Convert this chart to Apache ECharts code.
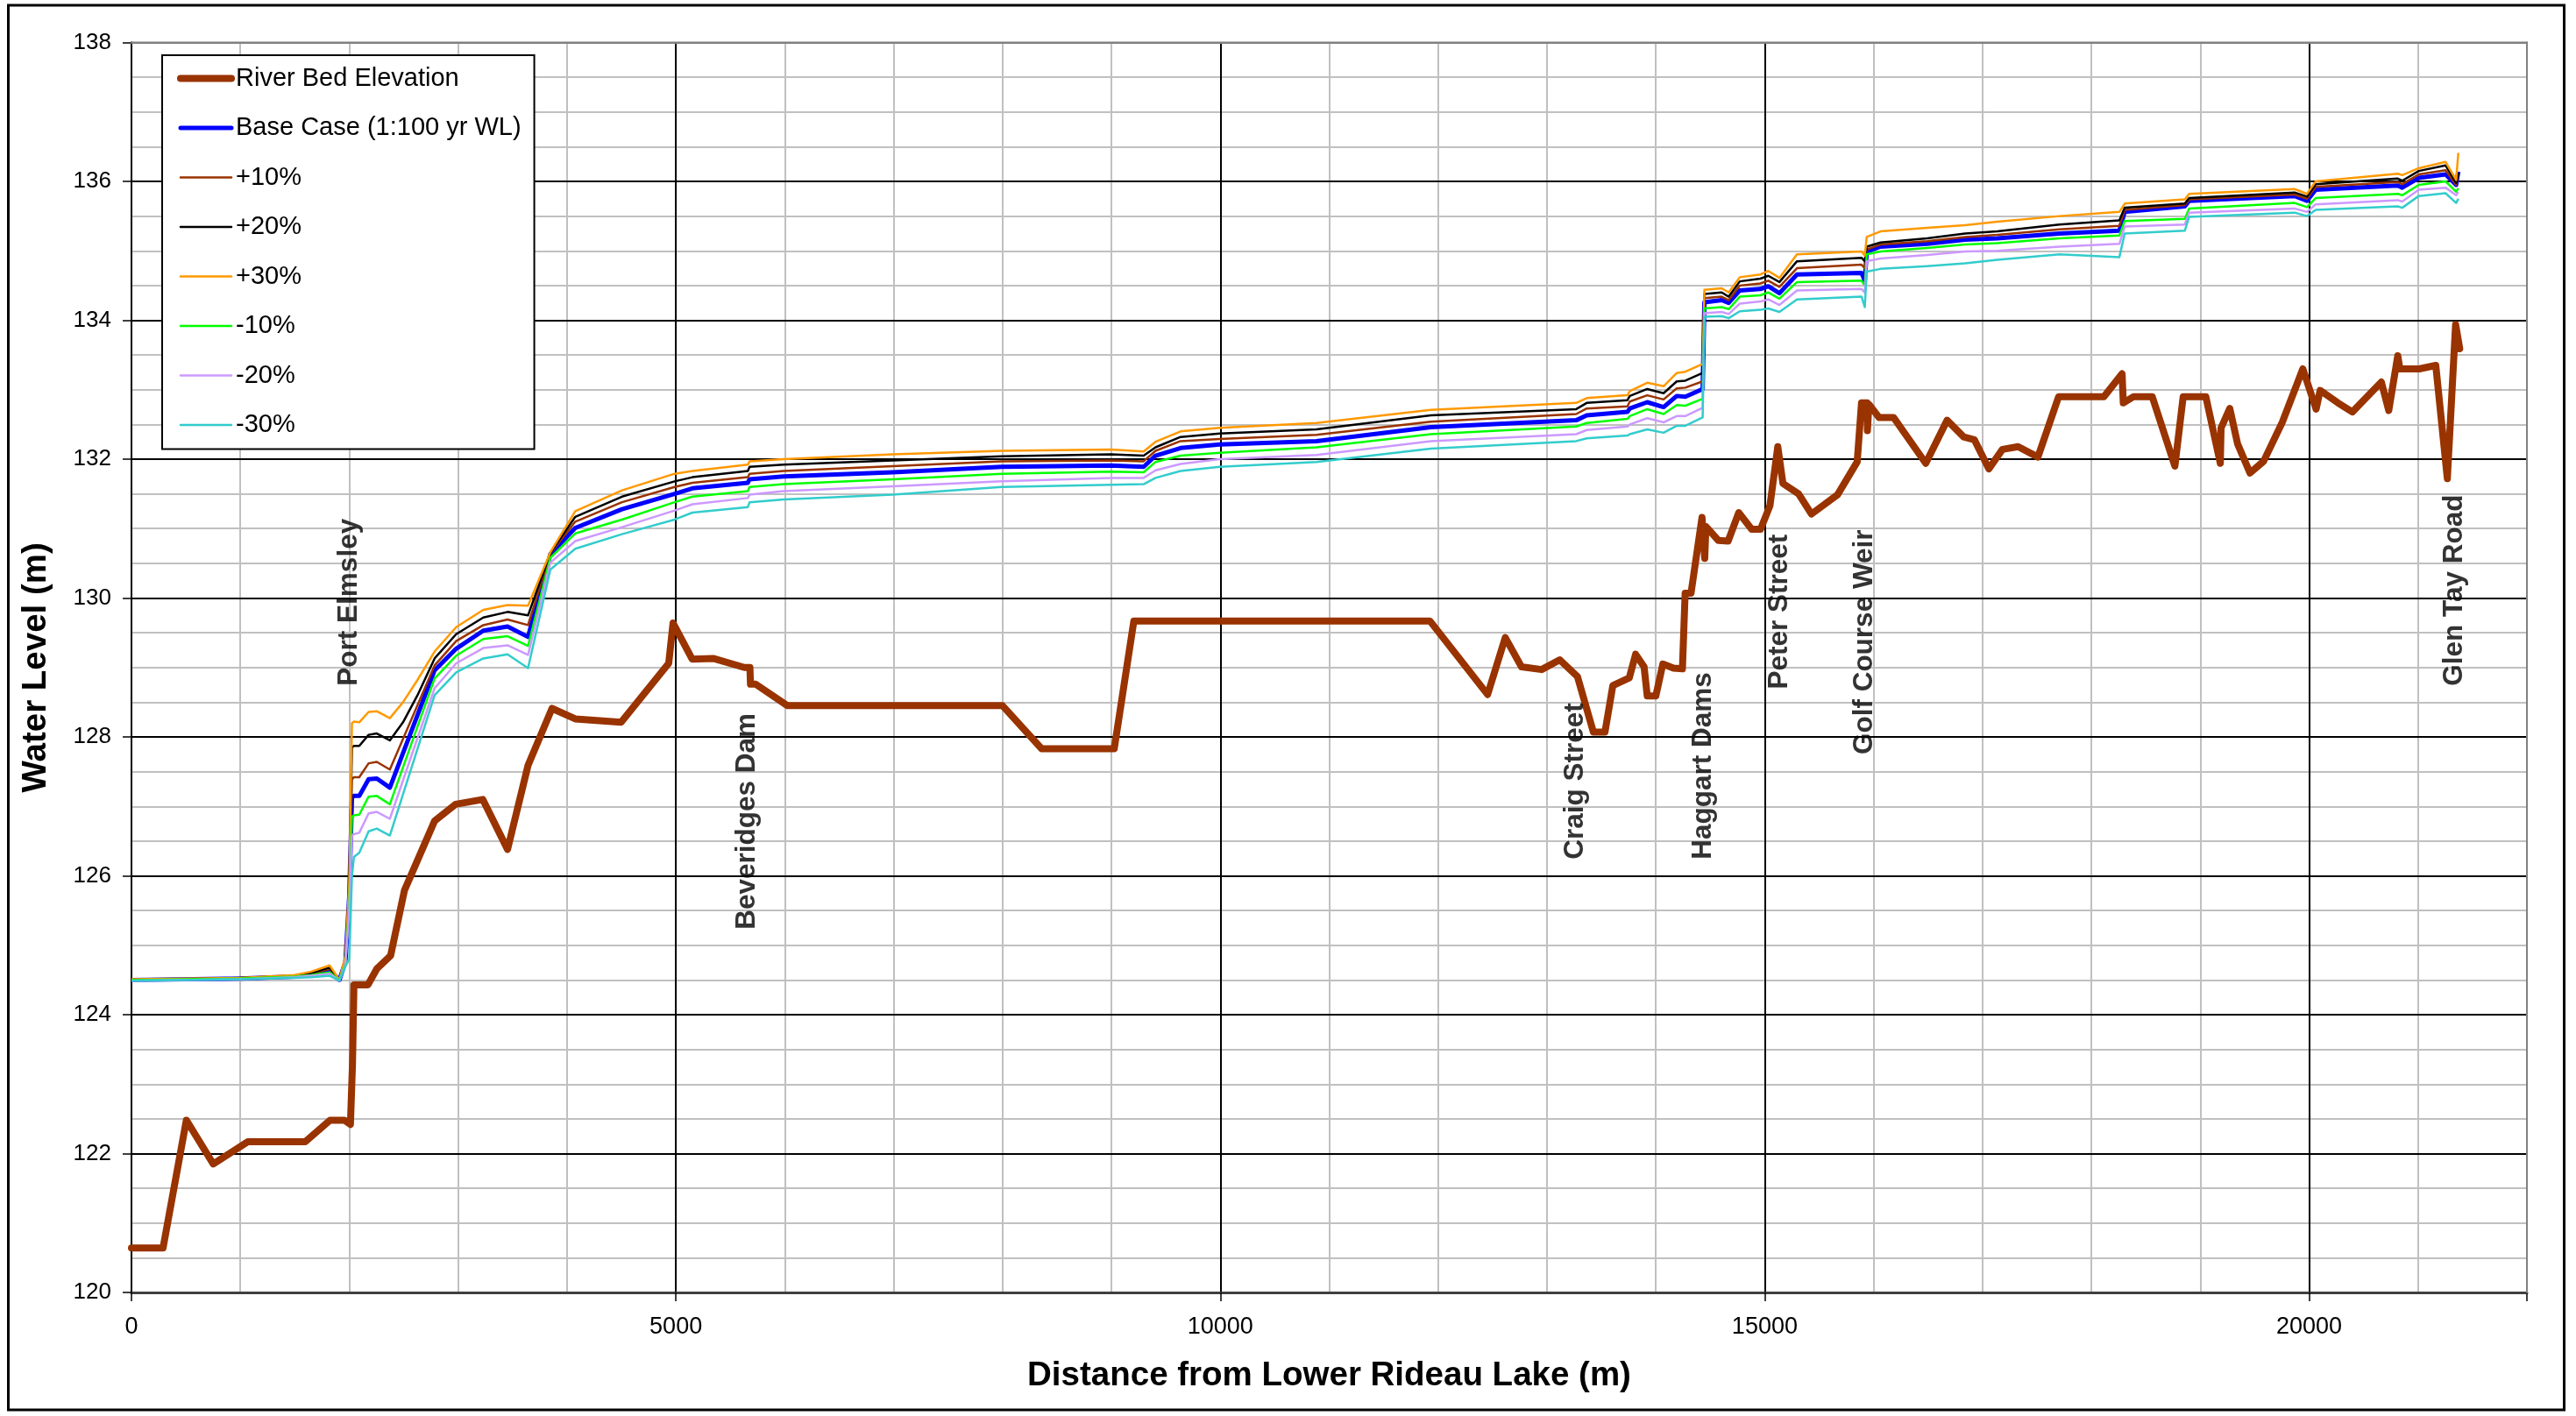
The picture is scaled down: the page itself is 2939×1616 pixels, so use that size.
<!DOCTYPE html>
<html>
<head>
<meta charset="utf-8">
<script src="https://cdn.jsdelivr.net/npm/echarts@6/dist/echarts.min.js"></script>
<style>
html,body{margin:0;padding:0;background:#fff;}
#chart{width:2939px;height:1616px;}
</style>
</head>
<body>
<div id="chart"></div>
<script>
// ---------- DATA ----------
const bedDist = [0,290,504,751,1067,1596,1823,1957,2011,2030,
  2043,2172,2253,2380,2507,2784,2977,3226,3454,3642,
  3862,4076,4497,4934,4974,5149,5342,5629,5680,5685,
  5732,6025,8000,8359,9026,9206,11925,12455,12617,12766,
  12951,13118,13280,13426,13533,13605,13756,13814,13892,13921,
  14000,14064,14162,14244,14269,14323,14424,14449,14460,14574,
  14664,14761,14880,14962,15048,15120,15167,15311,15429,15670,
  15849,15889,15940,15943,15957,16050,16184,16479,16675,16827,
  16925,17058,17183,17327,17509,17699,18115,18282,18293,18388,
  18559,18767,18843,19051,19184,19191,19271,19343,19457,19582,
  19753,19942,20064,20101,20265,20397,20663,20731,20814,20833,
  21011,21163,21269,21345,21383];
const bedElev = [120.64,120.64,122.48,121.85,122.17,122.17,122.48,122.48,122.42,123.30,
  124.43,124.43,124.66,124.85,125.79,126.79,127.03,127.10,126.38,127.59,
  128.41,128.26,128.21,129.06,129.64,129.12,129.13,129.00,129.00,128.76,
  128.76,128.45,128.45,127.83,127.83,129.67,129.67,128.61,129.43,129.01,
  128.97,129.11,128.87,128.07,128.07,128.74,128.85,129.19,129.01,128.59,
  128.59,129.05,128.99,128.98,130.07,130.07,131.16,130.57,131.03,130.83,
  130.82,131.23,130.99,130.99,131.33,132.18,131.65,131.50,131.21,131.49,
  131.96,132.81,132.81,132.41,132.79,132.60,132.60,131.94,132.56,132.32,
  132.28,131.86,132.14,132.18,132.03,132.90,132.90,133.23,132.81,132.90,
  132.90,131.90,132.90,132.90,131.94,132.45,132.73,132.22,131.80,131.97,
  132.53,133.30,132.72,132.99,132.81,132.68,133.11,132.70,133.49,133.30,
  133.30,133.35,131.72,133.94,133.59];

const wsDist = [0,1000,1500,1650,1820,1910,1965,2000,2025,2043,
  2092,2178,2253,2373,2494,2627,2784,2982,3231,3454,
  3642,3847,4076,4505,4988,5152,5661,5677,5989,6991,
  7992,8994,9296,9405,9635,9995,10883,11933,13269,13365,
  13739,13761,13921,14071,14192,14271,14430,14446,14605,14669,
  14771,14960,15033,15135,15296,15889,15919,15937,16063,16492,
  16841,17136,17707,18257,18306,18858,18898,19866,19980,20060,
  20814,20855,21007,21253,21350,21370];

const baseCase = [124.50,124.52,124.55,124.58,124.63,124.50,124.76,125.70,127.13,127.15,
  127.15,127.39,127.40,127.27,null,null,128.96,129.27,129.53,129.59,
  129.44,130.63,131.01,131.28,131.50,131.58,131.66,131.71,131.75,131.81,
  131.89,131.91,131.89,132.05,132.16,132.21,132.26,132.46,132.56,132.63,
  132.68,132.73,132.82,132.75,132.91,132.90,133.01,134.26,134.29,134.25,
  134.43,134.45,134.49,134.39,134.66,134.68,134.57,134.99,135.06,135.10,
  135.16,135.18,135.25,135.29,135.56,135.64,135.72,135.79,135.72,135.88,
  135.94,135.91,136.05,136.10,135.95,136.14];
const plus10 = [124.50,124.52,124.56,124.59,124.66,124.50,124.78,125.80,127.39,127.42,
  127.42,127.62,127.64,127.53,null,null,129.03,129.38,129.61,129.69,
  129.61,130.64,131.10,131.38,131.60,131.66,131.74,131.79,131.83,131.90,
  131.97,131.98,131.97,132.12,132.26,132.29,132.35,132.54,132.65,132.73,
  132.76,132.83,132.92,132.86,133.02,133.03,133.12,134.32,134.34,134.29,
  134.50,134.53,134.57,134.48,134.75,134.80,134.75,135.02,135.09,135.14,
  135.20,135.23,135.31,135.36,135.59,135.66,135.74,135.81,135.75,135.92,
  135.99,135.96,136.10,136.16,135.95,136.10];
const plus20 = [124.50,124.53,124.56,124.60,124.68,124.50,124.80,125.85,127.85,127.87,
  127.87,128.03,128.05,127.95,128.21,128.60,129.13,129.48,129.72,129.80,
  129.75,130.65,131.17,131.46,131.68,131.74,131.83,131.89,131.92,131.98,
  132.04,132.07,132.05,132.17,132.32,132.37,132.43,132.63,132.72,132.81,
  132.85,132.91,133.01,132.95,133.12,133.13,133.24,134.38,134.40,134.34,
  134.56,134.60,134.64,134.55,134.85,134.90,134.85,135.06,135.12,135.18,
  135.25,135.28,135.38,135.44,135.62,135.68,135.76,135.84,135.78,135.96,
  136.04,136.01,136.15,136.23,135.98,136.12];
const plus30 = [124.51,124.53,124.57,124.62,124.71,124.50,124.85,125.90,128.20,128.22,
  128.21,128.36,128.37,128.27,128.50,128.82,129.23,129.58,129.83,129.90,
  129.89,130.66,131.25,131.55,131.79,131.83,131.92,131.97,132.00,132.07,
  132.12,132.14,132.11,132.25,132.40,132.45,132.52,132.71,132.81,132.88,
  132.92,132.98,133.10,133.05,133.24,133.26,133.37,134.44,134.46,134.40,
  134.62,134.66,134.71,134.61,134.95,134.99,134.93,135.20,135.28,135.33,
  135.37,135.42,135.50,135.56,135.68,135.74,135.82,135.89,135.82,136.00,
  136.11,136.09,136.19,136.28,136.02,136.41];
const minus10 = [124.50,124.52,124.55,124.57,124.61,124.50,124.74,125.60,126.85,126.87,
  126.88,127.14,127.15,127.03,null,null,128.84,129.17,129.41,129.45,
  129.31,130.58,130.93,131.13,131.38,131.46,131.54,131.60,131.64,131.71,
  131.79,131.82,131.81,131.96,132.05,132.09,132.17,132.36,132.47,132.52,
  132.58,132.62,132.72,132.65,132.78,132.77,132.87,134.17,134.19,134.16,
  134.34,134.36,134.40,134.31,134.55,134.57,134.50,134.95,134.99,135.04,
  135.09,135.11,135.18,135.22,135.43,135.46,135.61,135.69,135.63,135.76,
  135.82,135.80,135.95,136.00,135.85,135.90];
const minus20 = [124.49,124.51,124.54,124.56,124.59,124.49,124.72,125.50,126.58,126.60,
  126.62,126.90,126.92,126.82,null,null,128.70,129.06,129.28,129.32,
  129.18,130.51,130.82,131.02,131.26,131.35,131.44,131.49,131.54,131.61,
  131.68,131.73,131.73,131.84,131.93,132.00,132.06,132.26,132.36,132.42,
  132.47,132.50,132.59,132.53,132.62,132.62,132.74,134.10,134.12,134.09,
  134.24,134.27,134.30,134.22,134.43,134.45,134.40,134.85,134.89,134.94,
  134.99,135.00,135.06,135.10,135.35,135.38,135.55,135.61,135.56,135.67,
  135.73,135.71,135.88,135.91,135.80,135.85];
const minus30 = [124.49,124.51,124.53,124.54,124.56,124.49,124.70,124.80,126.00,126.27,
  126.33,126.64,126.68,126.58,null,null,128.60,128.93,129.13,129.19,
  128.99,130.41,130.71,130.92,131.13,131.23,131.31,131.38,131.42,131.49,
  131.60,131.63,131.64,131.73,131.83,131.89,131.96,132.15,132.26,132.30,
  132.34,132.36,132.43,132.38,132.48,132.48,132.60,134.05,134.06,134.03,
  134.13,134.15,134.17,134.12,134.30,134.34,134.19,134.70,134.74,134.78,
  134.82,134.87,134.95,134.91,135.25,135.29,135.49,135.55,135.50,135.59,
  135.64,135.62,135.79,135.83,135.69,135.75];

const annoNames = ['Port Elmsley','Beveridges Dam','Craig Street','Haggart Dams','Peter Street','Golf Course Weir','Glen Tay Road'];
const annoDist = [2003, 5657, 13263, 14440, 15140, 15922, 21341];
const annoElev = [128.73, 125.22, 126.23, 126.23, 128.68, 127.74, 128.73];

const xTicks = [0, 5000, 10000, 15000, 20000];
const yTicks = [120, 122, 124, 126, 128, 130, 132, 134, 136, 138];

// ---------- CHART ----------
const FONT = "'Liberation Sans', Arial, sans-serif";
const pair = (xs, ys) => xs.map((x, i) => [x, ys[i]]);

const waterDefs = [
  {name: 'Base Case (1:100 yr WL)', data: baseCase, color: '#0000FF', width: 5},
  {name: '+10%', data: plus10, color: '#993300', width: 2.5},
  {name: '+20%', data: plus20, color: '#000000', width: 2.5},
  {name: '+30%', data: plus30, color: '#FF9900', width: 2.5},
  {name: '-10%', data: minus10, color: '#00FF00', width: 2.5},
  {name: '-20%', data: minus20, color: '#CC99FF', width: 2.5},
  {name: '-30%', data: minus30, color: '#33CCCC', width: 2.5}
];

const series = [{
  name: 'River Bed Elevation', type: 'line', xAxisIndex: 0, yAxisIndex: 0,
  data: pair(bedDist, bedElev), symbol: 'none', color: '#993300',
  lineStyle: {color: '#993300', width: 8, cap: 'round', join: 'round'}, z: 2
}];
waterDefs.forEach(d => series.push({
  name: d.name, type: 'line', xAxisIndex: 0, yAxisIndex: 0,
  data: pair(wsDist, d.data), symbol: 'none', connectNulls: true, color: d.color,
  lineStyle: {color: d.color, width: d.width, join: 'round'}, z: 3
}));
series.push({
  name: 'labels', type: 'scatter', xAxisIndex: 0, yAxisIndex: 0, silent: true, z: 6,
  symbol: 'circle', symbolSize: 1, itemStyle: {color: 'rgba(0,0,0,0)'},
  data: pair(annoDist, annoElev),
  label: {
    show: true, position: [0, 0], rotate: 90, align: 'left', verticalAlign: 'middle',
    formatter: p => annoNames[p.dataIndex],
    fontFamily: FONT, fontWeight: 'bold', fontSize: 31.5, color: '#000'
  }
});

const chart = echarts.init(document.getElementById('chart'), null, {renderer: 'canvas'});
chart.setOption({
  animation: false,
  backgroundColor: '#fff',
  textStyle: {fontFamily: FONT},
  grid: {left: 150, right: 56, top: 48.5, bottom: 141, show: true,
    borderColor: '#808080', borderWidth: 2, backgroundColor: '#fff',
    containLabel: false, outerBoundsMode: 'none'},
  legend: {
    orient: 'vertical', left: 185, top: 63,
    data: ['River Bed Elevation', 'Base Case (1:100 yr WL)', '+10%', '+20%', '+30%', '-10%', '-20%', '-30%'],
    itemWidth: 58, itemHeight: 29, itemGap: 27.5,
    padding: [12, 15, 13, 17],
    backgroundColor: '#fff', borderColor: '#000', borderWidth: 2,
    itemStyle: {opacity: 0},
    lineStyle: {width: 'inherit', cap: 'round'},
    textStyle: {fontFamily: FONT, fontSize: 29, color: '#000'},
    selectedMode: false, z: 8
  },
  xAxis: [{
    type: 'value', min: xTicks[0], max: 22000, interval: xTicks[1] - xTicks[0], z: 1,
    name: 'Distance from Lower Rideau Lake (m)', nameLocation: 'middle', nameGap: 76,
    nameTextStyle: {fontFamily: FONT, fontWeight: 'bold', fontSize: 38.5, color: '#000'},
    axisLine: {show: true, onZero: false, lineStyle: {color: '#404040', width: 3}},
    axisTick: {show: true, length: 10, lineStyle: {color: '#000', width: 1.5}},
    axisLabel: {fontFamily: FONT, fontSize: 27, color: '#000', margin: 26,
      formatter: v => (xTicks.indexOf(v) >= 0 ? String(v) : '')},
    splitLine: {show: true, lineStyle: {color: '#000', width: 2}}
  }, {
    type: 'value', min: 0, max: 22000, interval: 1000, z: 0, position: 'top',
    axisLine: {show: false}, axisTick: {show: false}, axisLabel: {show: false},
    splitLine: {show: true, lineStyle: {color: '#C0C0C0', width: 2}}
  }, {
    type: 'value', min: 0, max: 22000, z: 4, position: 'top',
    axisLine: {show: true, onZero: false, lineStyle: {color: '#808080', width: 2}},
    axisTick: {show: false}, axisLabel: {show: false}, splitLine: {show: false}
  }],
  yAxis: [{
    type: 'value', min: yTicks[0], max: yTicks[yTicks.length - 1], interval: 2, z: 1,
    name: 'Water Level (m)', nameLocation: 'middle', nameGap: 89,
    nameTextStyle: {fontFamily: FONT, fontWeight: 'bold', fontSize: 38.5, color: '#000'},
    axisLine: {show: true, onZero: false, lineStyle: {color: '#000', width: 2}},
    axisTick: {show: true, length: 10, lineStyle: {color: '#000', width: 1.5}},
    axisLabel: {fontFamily: FONT, fontSize: 26, color: '#000', margin: 23},
    splitLine: {show: true, lineStyle: {color: '#000', width: 2}},
    minorTick: {show: false, splitNumber: 4},
    minorSplitLine: {show: true, lineStyle: {color: '#C0C0C0', width: 2}}
  }, {
    type: 'value', min: yTicks[0], max: yTicks[yTicks.length - 1], z: 4, position: 'right',
    axisLine: {show: true, onZero: false, lineStyle: {color: '#808080', width: 2}},
    axisTick: {show: false}, axisLabel: {show: false}, splitLine: {show: false}
  }],
  graphic: [{
    type: 'rect', silent: true, z: 100,
    shape: {x: 9.5, y: 6, width: 2916, height: 1603},
    style: {fill: 'none', stroke: '#000', lineWidth: 3}
  }],
  series: series
});
</script>
</body>
</html>
